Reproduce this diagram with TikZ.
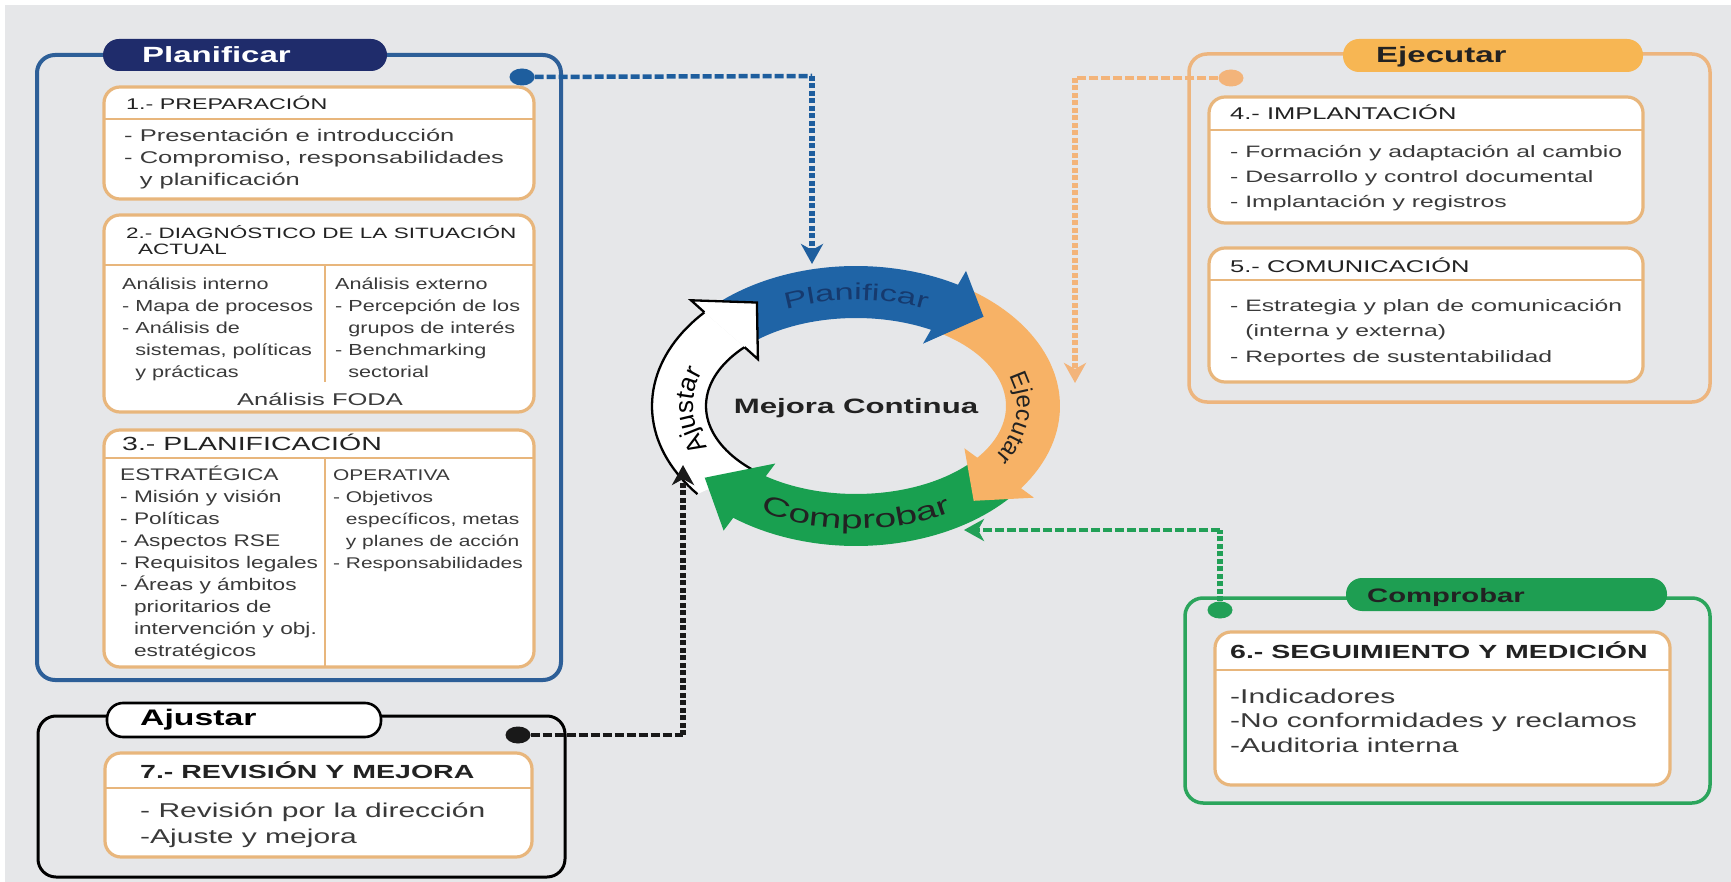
\documentclass[tikz,border=0pt]{standalone}
\usepackage{fontspec}
\setmainfont{Liberation Sans}
\newfontfamily\fW[FakeStretch=1.5]{Liberation Sans}
\newfontfamily\fC[FakeStretch=1.35]{Liberation Sans}
\usetikzlibrary{arrows.meta,decorations.text,shapes.geometric}
\definecolor{bgc}{HTML}{E6E7E9}
\definecolor{navyc}{HTML}{1F2C6B}
\definecolor{bluegrp}{HTML}{2D5F98}
\definecolor{blueband}{HTML}{1F64A6}
\definecolor{bluetxt}{HTML}{163A6E}
\definecolor{bluecon}{HTML}{1E5E9E}
\definecolor{orband}{HTML}{F7B266}
\definecolor{orgrp}{HTML}{EDB57E}
\definecolor{orpill}{HTML}{F7B653}
\definecolor{orcon}{HTML}{F3B47A}
\definecolor{grband}{HTML}{19A050}
\definecolor{grgrp}{HTML}{2BA55C}
\definecolor{grpill}{HTML}{1E9E52}
\definecolor{grcon}{HTML}{22A057}
\definecolor{tanc}{HTML}{E8B67C}
\definecolor{txtc}{HTML}{3A3A3A}
\definecolor{hdc}{HTML}{222222}
\newcounter{tn}
\newcommand{\txtlines}[5]{\foreach \ltext [count=\lidx from 0] in {#5}{\stepcounter{tn}\node[txt,#4] (tx\thetn) at (#1,{#2+\lidx*#3}) {\ltext};}}
\newcommand{\ringarrow}[5]{%
\fill[#5] plot[domain=#1:#3,samples=40,variable=\t] ({856+204*cos(\t)},{406-140*sin(\t)})
 -- ({856+220*cos(#3)},{406-156*sin(#3)})
 -- ({856+187*cos(#4)},{406-122*sin(#4)})
 -- ({856+134*cos(#3)},{406-72*sin(#3)})
 -- plot[domain=#3:#2,samples=40,variable=\t] ({856+150*cos(\t)},{406-88*sin(\t)}) -- cycle;}
\begin{document}
\begin{tikzpicture}[x=1pt,y=-1pt,
 txt/.style={inner sep=0pt, anchor=base west, text=txtc},
 hdr/.style={txt, text=hdc},
 grp/.style={line width=3.5pt, rounded corners=18pt},
 ibox/.style={draw=tanc, fill=white, line width=3.2pt, rounded corners=16pt},
 sepl/.style={draw=tanc, line width=2.6pt},
 pill/.style={rounded corners=16pt},
 dotn/.style={ellipse, minimum width=25pt, minimum height=17pt, inner sep=0pt},
 hconn/.style={line width=4.5pt, dash pattern=on 9pt off 3pt},
 vconn/.style={line width=5.5pt, dash pattern=on 5pt off 2.5pt},
 tipc/.style={-{Stealth[length=20pt,width=22pt,inset=6pt]}}]
\fill[white] (0,0) rectangle (1731,882);
\fill[bgc] (5,5) rectangle (1731,882);
\useasboundingbox (0,0) rectangle (1731,882);
% groups
\draw[grp, draw=bluegrp, line width=4pt] (37,55) rectangle (561,680);
\fill[navyc, pill] (103,39) rectangle (387,71);
\draw[grp, draw=black, line width=3pt] (38,716) rectangle (565,877);
\draw[pill, fill=white, draw=black, line width=2.6pt] (107,703) rectangle (381,737);
\draw[grp, draw=orgrp] (1189,54) rectangle (1710,402);
\fill[orpill, pill] (1343,39) rectangle (1643,72);
\draw[grp, draw=grgrp] (1185,598) rectangle (1710,803);
\fill[grpill, pill] (1346,578) rectangle (1667,611);
% pill labels
\node[txt, text=white, font=\fW\bfseries\fontsize{22}{26}\selectfont] (lP) at (142,63) {Planificar};
\node[txt, text=hdc, font=\fW\bfseries\fontsize{22}{26}\selectfont] (lE) at (1376,63) {Ejecutar};
\node[txt, text=hdc, font=\fW\bfseries\fontsize{19.5}{24}\selectfont] (lC) at (1367,602) {Comprobar};
\node[txt, text=black, font=\fW\bfseries\fontsize{22.5}{26}\selectfont] (lA) at (140,725) {Ajustar};
% inner boxes
\draw[ibox] (104,87) rectangle (534,199); \draw[sepl] (104,119) -- (534,119);
\draw[ibox] (104,215) rectangle (534,412); \draw[sepl] (104,265) -- (534,265); \draw[sepl] (325,265) -- (325,382);
\draw[ibox] (104,430) rectangle (534,667); \draw[sepl] (104,458) -- (534,458); \draw[sepl] (325,458) -- (325,667);
\draw[ibox] (105,753) rectangle (532,857); \draw[sepl] (105,788) -- (532,788);
\draw[ibox] (1209,97) rectangle (1643,223); \draw[sepl] (1209,130) -- (1643,130);
\draw[ibox] (1209,248) rectangle (1643,382); \draw[sepl] (1209,280) -- (1643,280);
\draw[ibox] (1215,632) rectangle (1670,785); \draw[sepl] (1215,670) -- (1670,670);
% box 1
\node[hdr, font=\fW\fontsize{15.5}{18}\selectfont] (h1) at (126,110) {1.- PREPARACIÓN};
\txtlines{124}{142}{22}{font=\fW\fontsize{17}{20}\selectfont}{- Presentación e introducción,{- Compromiso, responsabilidades},\hphantom{- }y planificación}
% box 2
\node[hdr, font=\fW\fontsize{15}{18}\selectfont] (h2) at (126,239) {2.- DIAGNÓSTICO DE LA SITUACIÓN};
\node[hdr, font=\fW\fontsize{15}{18}\selectfont] (h2b) at (138,255) {ACTUAL};
\txtlines{122}{290}{21.8}{font=\fC\fontsize{16}{19}\selectfont}{Análisis interno,- Mapa de procesos,- Análisis de,{\hphantom{- }sistemas, políticas},\hphantom{- }y prácticas}
\txtlines{335}{290}{21.8}{font=\fC\fontsize{16}{19}\selectfont}{Análisis externo,- Percepción de los,\hphantom{- }grupos de interés,- Benchmarking,\hphantom{- }sectorial}
\node[txt, anchor=base, font=\fW\fontsize{17}{20}\selectfont] (foda) at (320,405) {Análisis FODA};
% box 3
\node[hdr, font=\fW\fontsize{19}{22}\selectfont] (h3) at (122,450) {3.- PLANIFICACIÓN};
\txtlines{120}{480}{22.1}{font=\fC\fontsize{16.8}{20}\selectfont}{ESTRATÉGICA,- Misión y visión,- Políticas,- Aspectos RSE,- Requisitos legales,- Áreas y ámbitos,\hphantom{- }prioritarios de,\hphantom{- }intervención y obj.,\hphantom{- }estratégicos}
\txtlines{333}{480}{22}{font=\fC\fontsize{15.5}{19}\selectfont}{OPERATIVA,- Objetivos,{\hphantom{- }específicos, metas},\hphantom{- }y planes de acción,- Responsabilidades}
% box 7
\node[hdr, font=\fW\bfseries\fontsize{19}{22}\selectfont] (h7) at (140,778) {7.- REVISIÓN Y MEJORA};
\txtlines{140}{817}{26}{font=\fW\fontsize{20}{24}\selectfont}{- Revisión por la dirección,-Ajuste y mejora}
% box 4
\node[hdr, font=\fW\fontsize{17}{20}\selectfont] (h4) at (1230,120) {4.- IMPLANTACIÓN};
\txtlines{1230}{158}{25}{font=\fW\fontsize{16.5}{20}\selectfont}{- Formación y adaptación al cambio,- Desarrollo y control documental,- Implantación y registros}
% box 5
\node[hdr, font=\fW\fontsize{17}{20}\selectfont] (h5) at (1230,273) {5.- COMUNICACIÓN};
\txtlines{1230}{312}{25}{font=\fW\fontsize{16.5}{20}\selectfont}{- Estrategia y plan de comunicación,\hphantom{- }(interna y externa),- Reportes de sustentabilidad}
% box 6
\node[hdr, font=\fW\bfseries\fontsize{19}{22}\selectfont] (h6) at (1230,658) {6.- SEGUIMIENTO Y MEDICIÓN};
\txtlines{1230}{703}{24.5}{font=\fW\fontsize{20}{24}\selectfont}{-Indicadores,-No conformidades y reclamos,-Auditoria interna}
% ring: white body
\fill[white] plot[domain=219:138,samples=40,variable=\t] ({856+204*cos(\t)},{406-140*sin(\t)}) -- plot[domain=138:226,samples=40,variable=\t] ({856+150*cos(\t)},{406-88*sin(\t)}) -- cycle;
\draw[line width=2.3pt] plot[domain=219:138,samples=40,variable=\t] ({856+204*cos(\t)},{406-140*sin(\t)});
\draw[line width=2.3pt] plot[domain=226:138,samples=40,variable=\t] ({856+150*cos(\t)},{406-88*sin(\t)});
\ringarrow{320}{320}{233}{216}{grband}
\ringarrow{55}{55}{-36}{-51}{orband}
\ringarrow{133}{135}{60}{47}{blueband}
% white head
\fill[white] ({856+204*cos(138)},{406-140*sin(138)}) -- ({856+222*cos(138)},{406-158*sin(138)}) -- ({856+187*cos(122)},{406-122*sin(122)}) -- ({856+132*cos(138)},{406-70*sin(138)}) -- ({856+150*cos(138)},{406-88*sin(138)}) -- cycle;
\draw[line width=2.3pt, line join=miter] ({856+204*cos(138)},{406-140*sin(138)}) -- ({856+222*cos(138)},{406-158*sin(138)}) -- ({856+187*cos(122)},{406-122*sin(122)}) -- ({856+132*cos(138)},{406-70*sin(138)}) -- ({856+150*cos(138)},{406-88*sin(138)});
% ring labels
\path[decorate, decoration={text along path, text align=center, text={|\fW\fontsize{23}{27}\selectfont\color{bluetxt}|Planificar}}] plot[domain=140:40,samples=80,variable=\t] ({856+170*cos(\t)},{406-106*sin(\t)});
\path[decorate, decoration={text along path, text align=center, text={|\fontsize{24}{28}\selectfont\color{hdc}|Ejecutar}}] plot[domain=45:-55,samples=80,variable=\t] ({856+161*cos(\t)},{406-100*sin(\t)});
\path[decorate, decoration={text along path, text align=center, text={|\fW\fontsize{26}{30}\selectfont\color{hdc}|Comprobar}}] plot[domain=200:340,samples=80,variable=\t] ({856+186*cos(\t)},{406-123*sin(\t)});
\path[decorate, decoration={text along path, text align=center, text={|\fontsize{26}{30}\selectfont\color{black}|Ajustar}}] plot[domain=218:146,samples=80,variable=\t] ({856+163*cos(\t)},{406-100*sin(\t)});
\node[txt, anchor=base, text=hdc, font=\fW\bfseries\fontsize{20.8}{25}\selectfont] (mc) at (856,413) {Mejora Continua};
% dots and connectors
\node[dotn, fill=bluecon] (dP) at (522,77) {};
\node[dotn, fill=orcon] (dE) at (1231,78) {};
\node[dotn, fill=grcon] (dC) at (1220,610) {};
\node[dotn, fill=black!90] (dA) at (518,735) {};
\coordinate (cP) at (812,76); \coordinate (aP) at (812,264);
\coordinate (cE) at (1075,78); \coordinate (aE) at (1075,383);
\coordinate (cC) at (1220,530); \coordinate (aC) at (964,530);
\coordinate (cA) at (683,735); \coordinate (aA) at (683,465);
\draw[hconn, draw=bluecon] (dP) -- (cP);
\draw[vconn, tipc, draw=bluecon] (cP) -- (aP);
\draw[hconn, draw=orcon] (dE) -- (cE);
\draw[vconn, tipc, draw=orcon] (cE) -- (aE);
\draw[vconn, draw=grcon] (dC) -- (cC);
\draw[hconn, tipc, draw=grcon] (cC) -- (aC);
\draw[hconn, draw=black!90] (dA) -- (cA);
\draw[vconn, tipc, draw=black!90] (cA) -- (aA);
\end{tikzpicture}
\end{document}
